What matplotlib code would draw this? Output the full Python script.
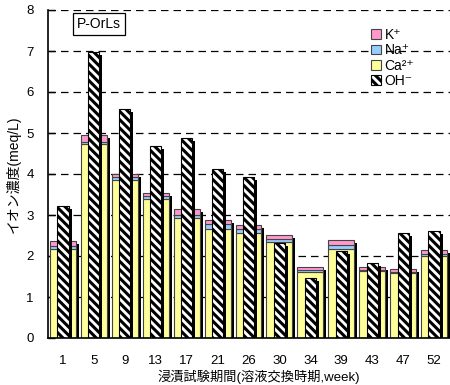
import matplotlib
matplotlib.use("Agg")
import matplotlib.pyplot as plt
import matplotlib.transforms as mtransforms
from matplotlib.patches import Patch
import numpy as np

plt.rcParams['font.family'] = ['Liberation Sans', 'Noto Sans CJK JP', 'DejaVu Sans']
plt.rcParams['hatch.linewidth'] = 2.2

# Immersion period (solution exchange week)
weeks = ['1', '5', '9', '13', '17', '21', '26', '30', '34', '39', '43', '47', '52']
# Ion concentrations (meq/L)
ca = [2.17, 4.73, 3.85, 3.39, 2.93, 2.67, 2.57, 2.33, 1.62, 2.17, 1.64, 1.58, 2.01]
na = [0.07, 0.06, 0.08, 0.07, 0.08, 0.10, 0.09, 0.08, 0.04, 0.10, 0.03, 0.03, 0.05]
k = [0.13, 0.16, 0.07, 0.08, 0.13, 0.10, 0.10, 0.10, 0.06, 0.11, 0.07, 0.07, 0.08]
oh = [3.22, 6.98, 5.58, 4.68, 4.87, 4.11, 3.92, 2.31, 1.47, 2.12, 1.82, 2.57, 2.61]

y_ticks = [0, 1, 2, 3, 4, 5, 6, 7, 8]

c_ca = '#FFFF99'
c_na = '#99CCFF'
c_k = '#FF99CC'
edge = '#444444'

fig = plt.figure(figsize=(4.5, 3.85), dpi=100)
ax = fig.add_axes([47.5 / 450, 47 / 385, 402 / 450, 328 / 385])

x = np.arange(len(weeks))
ca_a = np.array(ca)
na_a = np.array(na)
k_a = np.array(k)
total = ca_a + na_a + k_a

w_stack = 0.84
w_oh = 0.36
shadow = ax.transData + mtransforms.ScaledTranslation(0.03, -0.03, fig.dpi_scale_trans)

# drop shadow of the cation stack
ax.bar(x, total, w_stack, color='black', linewidth=0, transform=shadow, zorder=2)
# cation stack
ax.bar(x, ca_a, w_stack, color=c_ca, edgecolor=edge, linewidth=0.8, zorder=3)
ax.bar(x, na_a, w_stack, bottom=ca_a, color=c_na, edgecolor=edge, linewidth=0.8, zorder=3)
ax.bar(x, k_a, w_stack, bottom=ca_a + na_a, color=c_k, edgecolor=edge, linewidth=0.8, zorder=3)

# hydroxide bars with shadow
ax.bar(x, oh, w_oh, color='black', linewidth=0, transform=shadow, zorder=4)
ax.bar(x, oh, w_oh, color='white', edgecolor='black', hatch='\\\\\\\\', linewidth=0.8, zorder=5)

ax.set_xlim(-0.5, len(weeks) - 0.5)
ax.set_ylim(0, 8)
ax.set_yticks(y_ticks)
ax.set_xticks(x)
ax.set_xticklabels(weeks)
ax.tick_params(axis='y', direction='in', length=5, width=1, labelsize=9.5, pad=10)
ax.tick_params(axis='x', length=0, labelsize=9.5, pad=12)

for v in y_ticks[1:]:
    ax.axhline(v, color='black', linestyle=(0, (6, 4)), linewidth=0.9, zorder=1)

for s in ['top', 'right']:
    ax.spines[s].set_visible(False)
ax.spines['left'].set_linewidth(1.2)
ax.spines['bottom'].set_linewidth(1.2)
ax.spines['left'].set_zorder(6)
ax.spines['bottom'].set_zorder(6)

ax.set_ylabel('イオン濃度(meq/L)', fontsize=10, labelpad=4)
ax.set_xlabel('浸漬試験期間(溶液交換時期,week)', fontsize=9.5, va='center')
ax.xaxis.set_label_coords(0.526, -0.119)

ax.text(0.128, 0.958, 'P-OrLs', transform=ax.transAxes, ha='center', va='center',
        fontsize=10, zorder=7,
        bbox=dict(boxstyle='square,pad=0.3', facecolor='white', edgecolor='black', linewidth=0.9))

handles = [
    Patch(facecolor=c_k, edgecolor=edge, linewidth=0.8),
    Patch(facecolor=c_na, edgecolor=edge, linewidth=0.8),
    Patch(facecolor=c_ca, edgecolor=edge, linewidth=0.8),
    Patch(facecolor='white', edgecolor='black', hatch='\\\\\\\\', linewidth=0.8),
]
labels = ['K\u207a', 'Na\u207a', 'Ca\u00b2\u207a', 'OH\u207b']
leg = ax.legend(handles, labels, loc='upper left', bbox_to_anchor=(0.78, 0.975),
                frameon=False, fontsize=10, handlelength=0.7, handleheight=0.7,
                handletextpad=0.3, labelspacing=0.1, borderpad=0.2)
leg.set_zorder(8)

fig.savefig('out.png', dpi=100)
